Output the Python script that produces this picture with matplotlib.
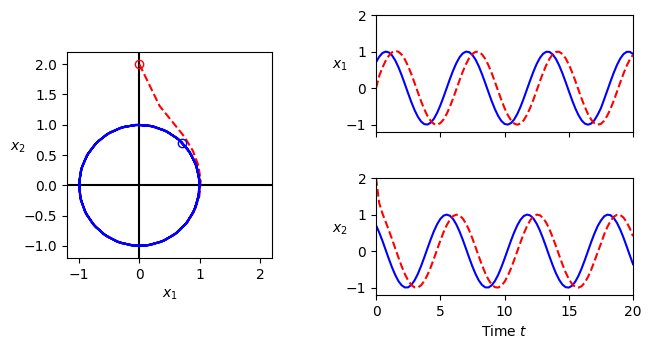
import numpy as np
import matplotlib.pyplot as plt

# sample times (s)
t = np.arange(0, 20.25, 0.25)

# trajectory starting on the cycle (blue)
x1_blue = [0.707, 0.860, 0.960, 0.999, 0.977, 0.894, 0.755, 0.570, 0.349, 0.106,
           -0.143, -0.384, -0.600, -0.779, -0.910, -0.984, -0.997, -0.948, -0.840, -0.680,
           -0.477, -0.245, 0.002, 0.250, 0.481, 0.683, 0.843, 0.950, 0.998, 0.984,
           0.908, 0.777, 0.597, 0.380, 0.139, -0.110, -0.353, -0.573, -0.758, -0.896,
           -0.978, -0.999, -0.958, -0.858, -0.704, -0.507, -0.277, -0.030, 0.217, 0.452,
           0.659, 0.824, 0.939, 0.995, 0.989, 0.922, 0.797, 0.623, 0.410, 0.172,
           -0.077, -0.321, -0.546, -0.736, -0.881, -0.971, -1.000, -0.967, -0.874, -0.727,
           -0.549, -0.310, -0.064, 0.184, 0.422, 0.633, 0.805, 0.927, 0.991, 0.993,
           0.934]
x2_blue = [0.707, 0.510, 0.282, 0.035, -0.213, -0.448, -0.655, -0.822, -0.937, -0.994,
           -0.990, -0.923, -0.800, -0.626, -0.414, -0.176, 0.073, 0.317, 0.542, 0.733,
           0.879, 0.970, 1.000, 0.968, 0.877, 0.730, 0.538, 0.313, 0.069, -0.181,
           -0.418, -0.630, -0.802, -0.925, -0.990, -0.994, -0.936, -0.819, -0.652, -0.444,
           -0.209, 0.039, 0.286, 0.514, 0.710, 0.862, 0.961, 1.000, 0.976, 0.892,
           0.752, 0.566, 0.345, 0.101, -0.148, -0.388, -0.604, -0.782, -0.912, -0.985,
           -0.997, -0.947, -0.838, -0.677, -0.474, -0.241, 0.007, 0.255, 0.485, 0.686,
           0.836, 0.951, 0.998, 0.983, 0.906, 0.774, 0.593, 0.376, 0.135, -0.115,
           -0.357]

# trajectory starting outside (red)
x1_red = [0.000, 0.335, 0.563, 0.747, 0.888, 0.980, 1.017, 0.995, 0.916, 0.781,
          0.600, 0.382, 0.141, -0.108, -0.351, -0.572, -0.757, -0.895, -0.978, -0.999,
          -0.959, -0.859, -0.706, -0.508, -0.279, -0.033, 0.215, 0.450, 0.657, 0.823,
          0.938, 0.995, 0.989, 0.923, 0.799, 0.625, 0.412, 0.174, -0.075, -0.320,
          -0.544, -0.734, -0.880, -0.970, -1.000, -0.968, -0.876, -0.728, -0.537, -0.311,
          -0.066, 0.183, 0.420, 0.632, 0.804, 0.926, 0.991, 0.994, 0.935, 0.818,
          0.650, 0.443, 0.207, -0.042, -0.288, -0.516, -0.712, -0.864, -0.961, -0.999,
          -0.979, -0.892, -0.751, -0.565, -0.343, -0.099, 0.150, 0.390, 0.606, 0.784,
          0.913]
x2_red = [2.000, 1.312, 1.031, 0.802, 0.570, 0.325, 0.072, -0.180, -0.419, -0.631,
          -0.803, -0.926, -0.991, -0.994, -0.937, -0.821, -0.654, -0.446, -0.211, 0.038,
          0.284, 0.512, 0.709, 0.861, 0.960, 0.999, 0.977, 0.893, 0.754, 0.568,
          0.347, 0.104, -0.146, -0.386, -0.602, -0.781, -0.911, -0.985, -0.997, -0.947,
          -0.839, -0.679, -0.476, -0.243, 0.004, 0.251, 0.483, 0.686, 0.844, 0.950,
          0.998, 0.983, 0.907, 0.775, 0.595, 0.378, 0.137, -0.112, -0.355, -0.575,
          -0.760, -0.897, -0.979, -0.999, -0.958, -0.857, -0.702, -0.504, -0.275, -0.029,
          0.203, 0.453, 0.660, 0.825, 0.940, 0.995, 0.989, 0.921, 0.796, 0.621,
          0.408]

fig = plt.figure(figsize=(6.51, 3.49), dpi=100)

# phase portrait
ax = fig.add_axes([0.1029, 0.2607, 0.3149, 0.590])
ax.axhline(0, color='k', lw=1.5)
ax.axvline(0, color='k', lw=1.5)
ax.plot(x1_red, x2_red, 'r--', lw=1.5)
ax.plot(x1_blue, x2_blue, 'b-', lw=1.5)
ax.plot(x1_red[0], x2_red[0], 'ro', mfc='none', ms=6)
ax.plot(x1_blue[0], x2_blue[0], 'bo', mfc='none', ms=6)
ax.set_xlim(-1.2, 2.2)
ax.set_ylim(-1.2, 2.2)
ax.set_xticks([-1, 0, 1, 2])
ax.set_yticks([-1.0, -0.5, 0.0, 0.5, 1.0, 1.5, 2.0])
ax.set_xlabel('$x_1$')
ax.set_ylabel('$x_2$', rotation=0)

# time series
ax1 = fig.add_axes([0.5776, 0.6218, 0.3948, 0.3352])
ax2 = fig.add_axes([0.5776, 0.1547, 0.3948, 0.3352])
for a, yb, yr, lab in [(ax1, x1_blue, x1_red, '$x_1$'), (ax2, x2_blue, x2_red, '$x_2$')]:
  a.plot(t, yb, 'b-', lw=1.5)
  a.plot(t, yr, 'r--', lw=1.5)
  a.set_xlim(0, 20)
  a.set_ylim(-1.2, 2)
  a.set_xticks([0, 5, 10, 15, 20])
  a.set_yticks([-1, 0, 1, 2])
  a.set_ylabel(lab, rotation=0)
ax1.set_xticklabels([])
ax2.set_xlabel('Time $t$')

fig.savefig('out.png', dpi=100)
